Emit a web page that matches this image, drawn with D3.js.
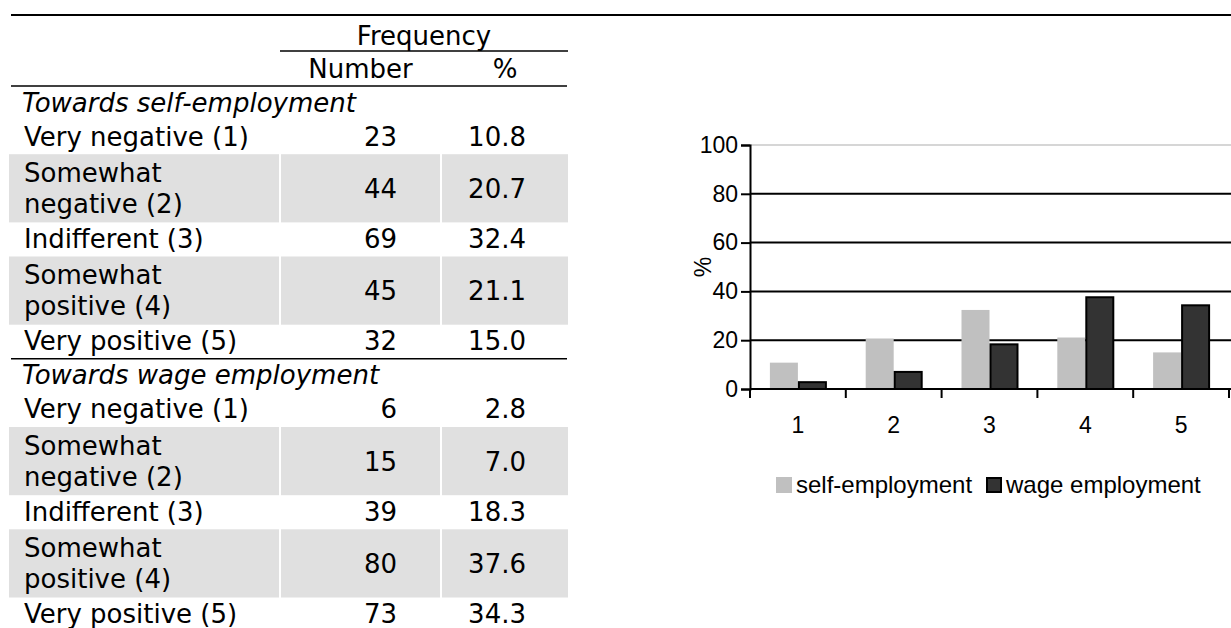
<!DOCTYPE html>
<html>
<head>
<meta charset="utf-8">
<script src="https://cdn.jsdelivr.net/npm/d3@7"></script>
<style>
  html, body { margin: 0; padding: 0; background: #fff; }
  svg { display: block; }
</style>
</head>
<body>
<svg id="chart" width="1231" height="628"></svg>
<script>
// ---------- DATA ----------
const sectionTitles = ["Towards self-employment", "Towards wage employment"];
const rowLabels = [
  ["Very negative (1)"],
  ["Somewhat", "negative (2)"],
  ["Indifferent (3)"],
  ["Somewhat", "positive (4)"],
  ["Very positive (5)"]
];
const selfNumber = [23, 44, 69, 45, 32];
const selfPct = ["10.8", "20.7", "32.4", "21.1", "15.0"];
const wageNumber = [6, 15, 39, 80, 73];
const wagePct = ["2.8", "7.0", "18.3", "37.6", "34.3"];
const headerTop = "Frequency";
const headerCols = ["Number", "%"];

const categories = ["1", "2", "3", "4", "5"];
const seriesNames = ["self-employment", "wage employment"];
const selfValues = [10.8, 20.7, 32.4, 21.1, 15.0];
const wageValues = [2.8, 7.0, 18.3, 37.6, 34.3];
const yTicks = [0, 20, 40, 60, 80, 100];
const yTitle = "%";

// ---------- TABLE ----------
const svg = d3.select("#chart");
const tFont = "'DejaVu Sans', Verdana, sans-serif";
const tSize = 26;
const unit = 34.1;
const base = 25.5;
const col = { labelX: 24, c0: [9, 279], c1: [281, 440], c2: [442, 568], numRight: 397, pctRight: 526 };

const table = svg.append("g").attr("font-family", tFont).attr("font-size", tSize).attr("fill", "#000");

// rules
table.append("line").attr("x1", 11).attr("x2", 1231).attr("y1", 15).attr("y2", 15).attr("stroke", "#000").attr("stroke-width", 2);
table.append("line").attr("x1", 280).attr("x2", 568).attr("y1", 51).attr("y2", 51).attr("stroke", "#000").attr("stroke-width", 1.6);
table.append("line").attr("x1", 11).attr("x2", 567).attr("y1", 86).attr("y2", 86).attr("stroke", "#000").attr("stroke-width", 1.6);

table.append("text").attr("x", 424).attr("y", 45).attr("text-anchor", "middle").text(headerTop);
table.append("text").attr("x", (col.c1[0] + col.c1[1]) / 2).attr("y", 78).attr("text-anchor", "middle").text(headerCols[0]);
table.append("text").attr("x", (col.c2[0] + col.c2[1]) / 2).attr("y", 78).attr("text-anchor", "middle").text(headerCols[1]);

const sections = [
  { title: sectionTitles[0], nums: selfNumber, pcts: selfPct },
  { title: sectionTitles[1], nums: wageNumber, pcts: wagePct }
];

let y = 86;
sections.forEach((sec, si) => {
  if (si > 0) {
    table.append("line").attr("x1", 11).attr("x2", 567).attr("y1", y).attr("y2", y).attr("stroke", "#000").attr("stroke-width", 1.6);
  }
  table.append("text").attr("x", 22).attr("y", y + base).attr("font-style", "italic").text(sec.title);
  y += unit;
  rowLabels.forEach((lines, i) => {
    const h = unit * lines.length;
    if (lines.length > 1) {
      [col.c0, col.c1, col.c2].forEach(c => {
        table.append("rect").attr("x", c[0]).attr("y", y).attr("width", c[1] - c[0]).attr("height", h).attr("fill", "#e0e0e0");
      });
    }
    lines.forEach((ln, li) => {
      table.append("text").attr("x", col.labelX).attr("y", y + (lines.length > 1 ? 27.5 + li * 31 : base)).text(ln);
    });
    const vy = lines.length > 1 ? y + h / 2 + 9.5 : y + base;
    table.append("text").attr("x", col.numRight).attr("y", vy).attr("text-anchor", "end").text(sec.nums[i]);
    table.append("text").attr("x", col.pctRight).attr("y", vy).attr("text-anchor", "end").text(sec.pcts[i]);
    y += h;
  });
});

// ---------- BAR CHART ----------
const cFont = "'Liberation Sans', Arial, sans-serif";
const cSize = 23;
const plot = { left: 750, right: 1229, top: 145, bottom: 389 };

const x = d3.scaleBand().domain(categories).range([plot.left, plot.right]).padding(0);
const yS = d3.scaleLinear().domain([0, 100]).range([plot.bottom, plot.top]);
const barW = 28;
const sub = d3.scaleBand().domain(seriesNames).range([-barW, barW]).padding(0);

const chart = svg.append("g").attr("font-family", cFont).attr("font-size", cSize);

// gridlines
chart.selectAll(".grid").data(yTicks.filter(t => t > 0)).enter().append("line")
  .attr("x1", plot.left).attr("x2", plot.right + 2)
  .attr("y1", d => yS(d)).attr("y2", d => yS(d))
  .attr("stroke", d => d === 100 ? "#c8c8c8" : "#000")
  .attr("stroke-width", d => d === 100 ? 1.5 : 2);

// bars
const colors = { "self-employment": "#c0c0c0", "wage employment": "#333333" };
const rows = categories.map((c, i) => ({ cat: c, vals: [selfValues[i], wageValues[i]] }));
const grp = chart.selectAll(".cat").data(rows).enter().append("g")
  .attr("transform", d => `translate(${x(d.cat) + x.bandwidth() / 2},0)`);
grp.selectAll("rect").data(d => d.vals.map((v, k) => ({ name: seriesNames[k], v }))).enter().append("rect")
  .attr("x", d => sub(d.name) + (d.name === seriesNames[1] ? 1 : 0))
  .attr("y", d => yS(d.v))
  .attr("width", d => d.name === seriesNames[1] ? sub.bandwidth() - 1 : sub.bandwidth())
  .attr("height", d => yS(0) - yS(d.v))
  .attr("fill", d => colors[d.name])
  .attr("stroke", d => d.name === seriesNames[1] ? "#000" : "none")
  .attr("stroke-width", 2);

// y axis
const yAxis = d3.axisLeft(yS).tickValues(yTicks).tickSize(9).tickPadding(3);
const yg = chart.append("g").attr("transform", `translate(${plot.left},0)`).call(yAxis);
yg.select(".domain").attr("stroke", "#000").attr("stroke-width", 2);
yg.selectAll(".tick line").attr("stroke", "#000").attr("stroke-width", 2);
yg.selectAll(".tick text").attr("font-family", cFont).attr("font-size", cSize).attr("fill", "#000");

// x axis
const boundaries = d3.range(categories.length + 1).map(i => plot.left + i * x.step());
chart.append("line").attr("x1", plot.left).attr("x2", plot.right + 2).attr("y1", plot.bottom).attr("y2", plot.bottom).attr("stroke", "#000").attr("stroke-width", 2);
chart.selectAll(".xt").data(boundaries).enter().append("line")
  .attr("x1", d => d).attr("x2", d => d).attr("y1", plot.bottom).attr("y2", plot.bottom + 9)
  .attr("stroke", "#000").attr("stroke-width", 2);
chart.selectAll(".xl").data(categories).enter().append("text")
  .attr("x", d => x(d) + x.bandwidth() / 2).attr("y", 433)
  .attr("text-anchor", "middle").attr("fill", "#000").text(d => d);

// y title
chart.append("text").attr("transform", `translate(711,${(plot.top + plot.bottom) / 2}) rotate(-90)`)
  .attr("text-anchor", "middle").attr("fill", "#000").text(yTitle);

// legend
const legend = chart.append("g").attr("font-size", 24);
const legItems = [
  { name: seriesNames[0], x: 776 },
  { name: seriesNames[1], x: 986 }
];
legItems.forEach((it, k) => {
  legend.append("rect").attr("x", it.x + (k ? 1 : 0)).attr("y", 477 + (k ? 1 : 0))
    .attr("width", k ? 14 : 16).attr("height", k ? 14 : 16)
    .attr("fill", colors[it.name]).attr("stroke", k ? "#000" : "none").attr("stroke-width", 2);
  legend.append("text").attr("x", it.x + 20).attr("y", 493).attr("fill", "#000").text(it.name);
});
</script>
</body>
</html>
